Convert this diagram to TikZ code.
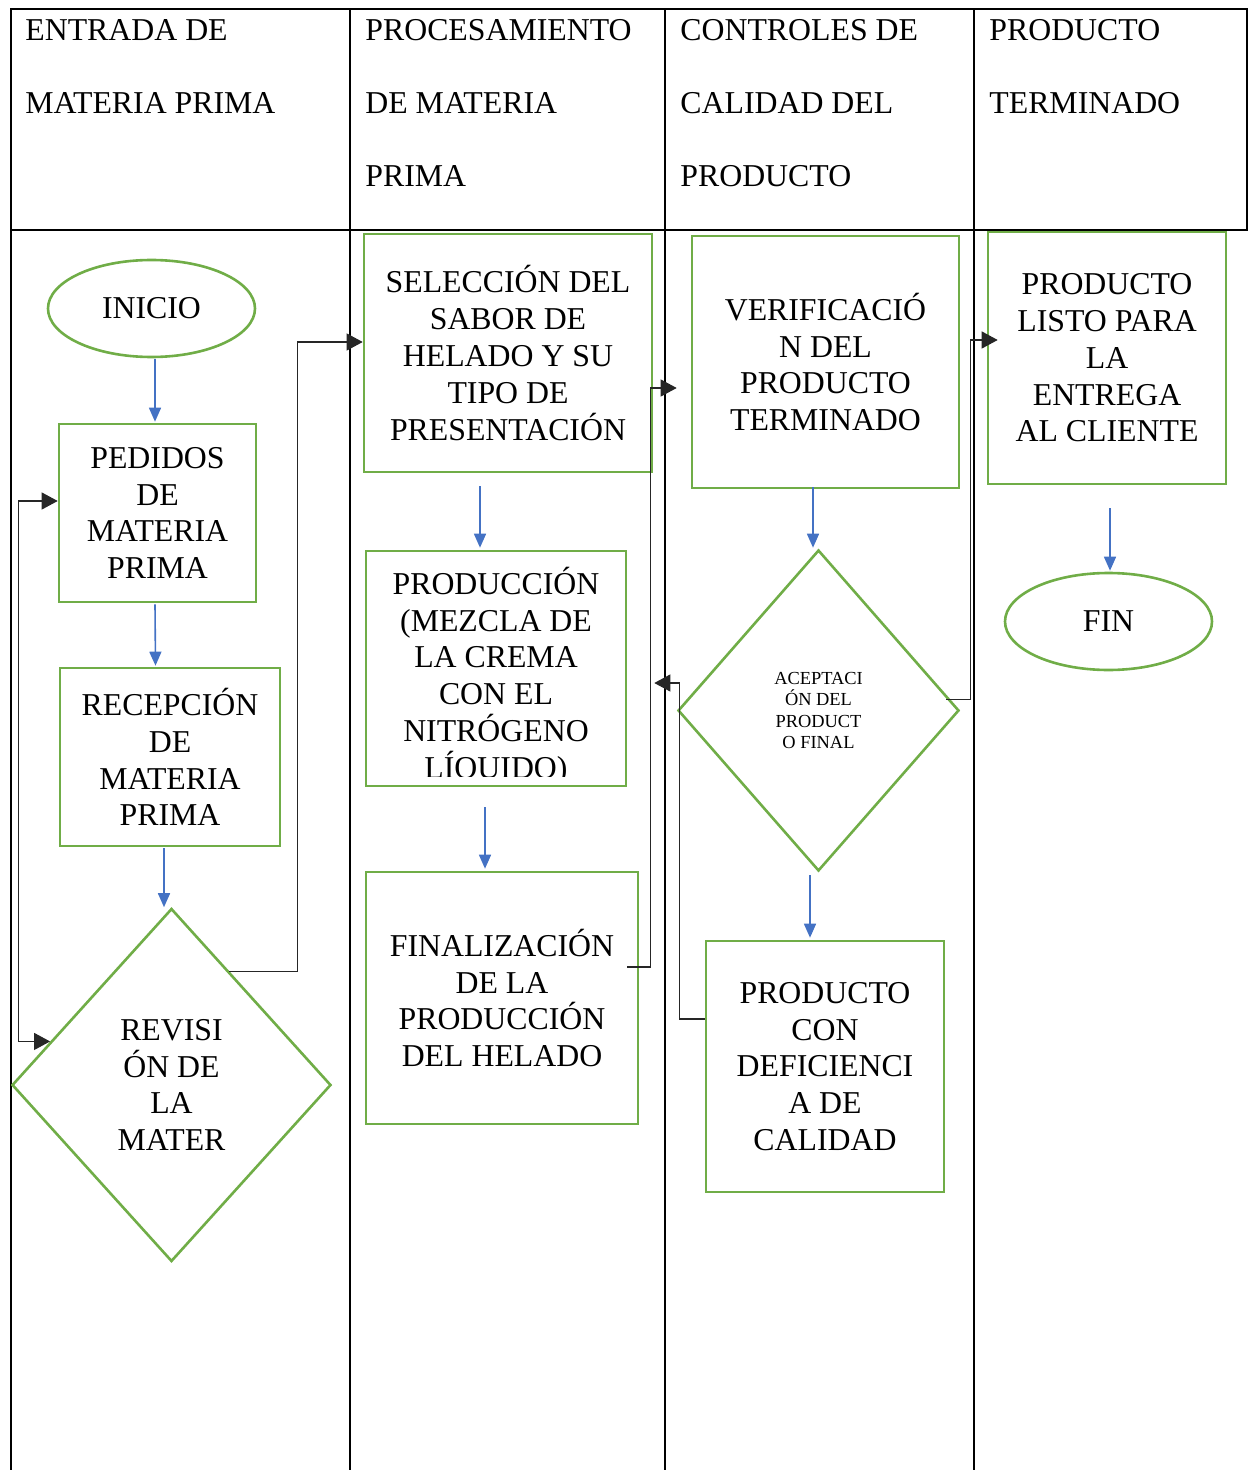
\documentclass[tikz,border=0pt]{standalone}
\usepackage{fontspec}
\setmainfont{Liberation Serif}
\definecolor{boxgreen}{RGB}{112, 173, 71}
\definecolor{flowblue}{RGB}{68, 114, 196}
\usetikzlibrary{calc, shapes.geometric, arrows.meta}
\tikzset{
    boxtext/.style={align=center, inner sep=0pt,
        font=\fontsize{15.9}{18.4}\selectfont},
    procbox/.style={boxtext, draw=boxgreen, line width=1.3pt, rectangle},
    startend/.style={boxtext, draw=boxgreen, line width=1.3pt, ellipse,
        minimum width=103.5pt, minimum height=48.5pt},
    decision/.style={boxtext, draw=boxgreen, line width=1.3pt, diamond},
    headtext/.style={anchor=north west, align=left, inner sep=0pt,
        font=\fontsize{15.9}{36.5}\selectfont},
    flow/.style={draw=flowblue, line width=0.8pt,
        -{Triangle[length=7pt, width=6pt]}},
    link/.style={draw=black!85, line width=0.6pt,
        -{Triangle[length=8pt, width=8.5pt]}},
    lane/.style={line width=0.9pt},
}

\begin{document}
\begin{tikzpicture}[x=0.5pt, y=-0.5pt]
    \useasboundingbox (0, 0) rectangle (1248, 1470);
    % table
    \draw[lane] (10, 9) -- (1248, 9);
    \draw[lane] (10, 230) -- (1248, 230);
    \foreach \lanex in {11, 350, 665, 974}
        \draw[lane] (\lanex, 9) -- (\lanex, 1470);
    \draw[lane] (1247, 9) -- (1247, 230);
    \node[headtext] (head1) at (25, 19) {ENTRADA DE\\MATERIA PRIMA};
    \node[headtext] (head2) at (365, 19) {PROCESAMIENTO\\DE MATERIA\\PRIMA};
    \node[headtext] (head3) at (680, 19) {CONTROLES DE\\CALIDAD DEL\\PRODUCTO};
    \node[headtext] (head4) at (989, 19) {PRODUCTO\\TERMINADO};

    % entrada de materia prima
    \node[startend] (inicio) at (151.5, 308.5) {INICIO};
    \node[procbox, minimum width=98.5pt, minimum height=89pt] (pedidos)
        at (157.5, 513) {PEDIDOS\\DE\\MATERIA\\PRIMA};
    \node[procbox, minimum width=110pt, minimum height=89pt] (recepcion)
        at (170, 757) {RECEPCIÓN\\DE\\MATERIA\\PRIMA};
    \node[decision, minimum width=159.5pt, minimum height=176.5pt,
        font=\fontsize{15.9}{18.2}\selectfont] (revision)
        at (171.5, 1085) {REVISI\\ÓN DE\\LA\\MATER};

    % procesamiento
    \node[procbox, minimum width=144pt, minimum height=119pt] (seleccion)
        at (508, 353) {SELECCIÓN DEL\\SABOR DE\\HELADO Y SU\\TIPO DE\\PRESENTACIÓN};
    \node[procbox, minimum width=130pt, minimum height=117.5pt] (produccion)
        at (496, 668.5) {};
    \begin{scope}
        \clip ($(produccion.south west)+(0, -11)$) rectangle (produccion.north east);
        \node[boxtext] (produccionlbl) at (496, 676)
            {PRODUCCIÓN\\(MEZCLA DE\\LA CREMA\\CON EL\\NITRÓGENO\\LÍQUIDO)};
    \end{scope}
    \node[procbox, minimum width=136pt, minimum height=126pt] (finalizacion)
        at (502, 998) {FINALIZACIÓN\\DE LA\\PRODUCCIÓN\\DEL HELADO};

    % controles de calidad
    \node[procbox, minimum width=133.5pt, minimum height=126pt] (verificacion)
        at (825.5, 362) {VERIFICACIÓ\\N DEL\\PRODUCTO\\TERMINADO};
    \node[decision, minimum width=140.5pt, minimum height=160.5pt,
        font=\fontsize{9.2}{10.8}\selectfont] (aceptacion)
        at (818.5, 710.5) {ACEPTACI\\ÓN DEL\\PRODUCT\\O FINAL};
    \node[procbox, minimum width=119pt, minimum height=125.5pt] (deficiencia)
        at (825, 1066.5) {PRODUCTO\\CON\\DEFICIENCI\\A DE\\CALIDAD};

    % producto terminado
    \node[procbox, minimum width=119pt, minimum height=126pt] (listo)
        at (1107, 358) {PRODUCTO\\LISTO PARA\\LA\\ENTREGA\\AL CLIENTE};
    \node[startend] (fin) at (1108.5, 621.5) {FIN};

    % flujo
    \draw[flow] ($(inicio.south)+(3.5, 1)$) -- ($(pedidos.north)+(-2.5, -1)$);
    \draw[flow] ($(pedidos.south)+(-2.5, 1)$) -- ($(recepcion.north)+(-14.5, -1)$);
    \draw[flow] ($(recepcion.south)+(-6, 1)$) -- ($(revision.north)+(-7.5, 0)$);
    \draw[flow] ($(seleccion.south)+(-28, 13)$) -- ($(produccion.north)+(-16, -2)$);
    \draw[flow] ($(produccion.south)+(-11, 20)$) -- ($(finalizacion.north)+(-17, -2)$);
    \draw[flow] ($(verificacion.south)+(-12.5, -2)$) -- ($(aceptacion.north)+(-5.5, -1)$);
    \draw[flow] ($(aceptacion.south)+(-8.5, 3)$) -- ($(deficiencia.north)+(-15, -2)$);
    \draw[flow] ($(listo.south)+(3, 23)$) -- ($(fin.north)+(1.5, -1)$);

    \draw[link] ($(revision.north)!0.36!(revision.east)$)
        -| ($(seleccion.west)+(-65, -11)$) -- ($(seleccion.west)+(0, -11)$);
    \draw[link, {Triangle[length=8pt, width=8.5pt]}-{Triangle[length=8pt, width=8.5pt]}]
        ($(pedidos.west)+(0, -12)$) -- ++(-39, 0)
        |- ($(revision.west)!0.245!(revision.north)$);
    \draw[link] ($(finalizacion.east)+(-12, -31)$)
        -| ($(verificacion.west)+(-40, 26)$) -- ($(verificacion.west)+(-14, 26)$);
    \draw[link] ($(deficiencia.west)+(0, -47.5)$)
        -| ($(produccion.east)+(52, 14.5)$) -- ($(produccion.east)+(27, 14.5)$);
    \draw[link] ($(aceptacion.east)+(-14, -11)$)
        -| ($(listo.west)+(-16, -18)$) -- ($(listo.west)+(11, -18)$);
\end{tikzpicture}
\end{document}
